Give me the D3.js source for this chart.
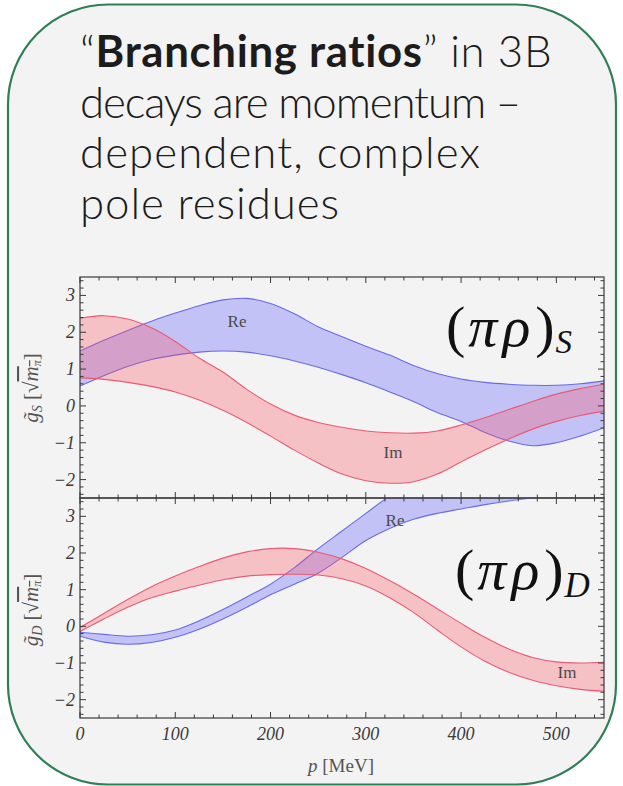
<!DOCTYPE html>
<html>
<head>
<meta charset="utf-8">
<script src="https://cdn.jsdelivr.net/npm/d3@7"></script>
<style>
  html, body { margin: 0; padding: 0; background: #ffffff; }
  svg { display: block; }
</style>
</head>
<body>
<svg id="chart" width="623" height="786"></svg>
<script>
// Momentum grid (MeV) shared by every band
const momentum = [0, 25, 50, 75, 100, 125, 150, 175, 200, 225, 250, 275, 300, 325, 350, 375, 400, 425, 450, 475, 500, 525, 550];

// (pi rho) S-wave residue, real part: upper / lower edge of the band
const reS_hi = [1.49, 1.78, 2.05, 2.30, 2.52, 2.72, 2.88, 2.92, 2.78, 2.50, 2.15, 1.88, 1.62, 1.38, 1.10, 0.88, 0.73, 0.64, 0.59, 0.56, 0.56, 0.60, 0.68];
const reS_lo = [0.54, 0.82, 1.07, 1.26, 1.38, 1.46, 1.49, 1.46, 1.36, 1.22, 1.05, 0.85, 0.63, 0.38, 0.12, -0.18, -0.42, -0.72, -0.95, -1.08, -1.00, -0.82, -0.59];
// (pi rho) S-wave residue, imaginary part
const imS_hi = [2.38, 2.45, 2.36, 2.12, 1.75, 1.30, 0.92, 0.45, 0.05, -0.25, -0.45, -0.58, -0.68, -0.73, -0.74, -0.68, -0.52, -0.32, -0.10, 0.12, 0.32, 0.47, 0.59];
const imS_lo = [0.76, 0.72, 0.64, 0.53, 0.38, 0.16, -0.12, -0.45, -0.82, -1.20, -1.55, -1.85, -2.03, -2.10, -2.06, -1.85, -1.52, -1.20, -0.90, -0.63, -0.42, -0.26, -0.14];

// (pi rho) D-wave residue, real part
const reD_hi = [-0.16, -0.22, -0.27, -0.23, -0.10, 0.15, 0.46, 0.80, 1.15, 1.60, 2.12, 2.60, 3.08, 3.55, 3.90, 4.20, 4.40, 4.60, 4.75, 4.85, 4.90, 4.95, 5.00];
const reD_lo = [-0.27, -0.43, -0.49, -0.44, -0.30, -0.08, 0.20, 0.52, 0.86, 1.15, 1.45, 1.88, 2.34, 2.67, 2.92, 3.08, 3.20, 3.32, 3.42, 3.50, 3.56, 3.62, 3.66];
// (pi rho) D-wave residue, imaginary part
const imD_hi = [-0.03, 0.35, 0.73, 1.08, 1.37, 1.63, 1.86, 2.03, 2.12, 2.12, 2.02, 1.84, 1.58, 1.25, 0.88, 0.48, 0.08, -0.30, -0.62, -0.85, -0.97, -1.00, -0.98];
const imD_lo = [-0.14, 0.20, 0.52, 0.78, 0.96, 1.12, 1.27, 1.37, 1.41, 1.42, 1.40, 1.30, 1.10, 0.78, 0.38, -0.10, -0.56, -0.95, -1.25, -1.47, -1.62, -1.72, -1.77];

// Axis ticks
const xTickValues = [0, 100, 200, 300, 400, 500];
const yTickValues = [-2, -1, 0, 1, 2, 3];
const xDomain = [0, 550];
const yDomain = [-2.5, 3.5];

const titleLines = [
  [{t: "\u201C", b: false}, {t: "Branching ratios", b: true}, {t: "\u201D in 3B", b: false}],
  [{t: "decays are momentum \u2013", b: false}],
  [{t: "dependent, complex", b: false}],
  [{t: "pole residues", b: false}]
];
// right end of each title line
const titleLineEnds = [553, 520, 481, 340];

const svg = d3.select("#chart");

// Rounded slide card
svg.append("rect")
  .attr("x", 8).attr("y", 4.5).attr("width", 608).attr("height", 780)
  .attr("rx", 100).attr("ry", 100)
  .attr("fill", "#f3f3f3")
  .attr("stroke", "#2f7f56").attr("stroke-width", 2.2);

// Title block
const title = svg.append("g")
  .attr("font-family", "Lato, 'Open Sans', sans-serif")
  .attr("fill", "#1c1c1c");
const titleTexts = titleLines.map((line, i) => {
  const t = title.append("text").attr("x", 80).attr("y", 67 + i * 50.5).attr("font-size", 40);
  line.forEach(seg => {
    t.append("tspan").attr("font-weight", seg.b ? 700 : 300).text(seg.t);
  });
  return t;
});
// Common size from the mean width ratio, then per-line tracking to reach each line's end
const ratios = titleTexts.map((t, i) => (titleLineEnds[i] - 80) / t.node().getComputedTextLength());
const titleSize = 40 * d3.mean(ratios) * 0.98;
titleTexts.forEach((t, i) => {
  t.attr("font-size", titleSize);
  const w = t.node().getComputedTextLength();
  const n = titleLines[i].reduce((s, seg) => s + seg.t.length, 0);
  t.attr("letter-spacing", ((titleLineEnds[i] - 80) - w) / n);
});

const x = d3.scaleLinear().domain(xDomain).range([80, 604]);

const RED = "rgb(255,80,92)";
const BLUE = "rgb(84,84,255)";
const RED_LINE = "#ea5a74";
const BLUE_LINE = "#6a6ae8";

const panels = [
  { top: 277, bottom: 498, re: [reS_hi, reS_lo], im: [imS_hi, imS_lo], id: "S",
    reLabel: [237, 327], imLabel: [393, 458], sym: { x: 446, y: 346, sub: "S", subSize: 33, subDy: 7 },
    yLabelY: 388 },
  { top: 498, bottom: 718, re: [reD_hi, reD_lo], im: [imD_hi, imD_lo], id: "D",
    reLabel: [395, 526], imLabel: [567, 678], sym: { x: 455, y: 589, sub: "D", subSize: 35, subDy: 8 },
    yLabelY: 610 }
];

const serif = "'Liberation Serif', 'DejaVu Serif', serif";

panels.forEach((pn, k) => {
  const y = d3.scaleLinear().domain(yDomain).range([pn.bottom, pn.top]);
  const g = svg.append("g");

  const clipId = "clip" + pn.id;
  svg.append("clipPath").attr("id", clipId)
    .append("rect").attr("x", 80).attr("y", pn.top).attr("width", 524).attr("height", pn.bottom - pn.top);

  const plot = g.append("g").attr("clip-path", `url(#${clipId})`);

  const drawBand = (hi, lo, fill, line) => {
    const rows = momentum.map((p, i) => ({ p, hi: hi[i], lo: lo[i] }));
    const area = d3.area().curve(d3.curveCatmullRom)
      .x(d => x(d.p)).y0(d => y(d.lo)).y1(d => y(d.hi));
    plot.append("path").datum(rows).attr("d", area)
      .attr("fill", fill).attr("fill-opacity", 0.3).attr("stroke", "none");
    ["hi", "lo"].forEach(key => {
      const ln = d3.line().curve(d3.curveCatmullRom).x(d => x(d.p)).y(d => y(d[key]));
      plot.append("path").datum(rows).attr("d", ln)
        .attr("fill", "none").attr("stroke", line).attr("stroke-width", 1.1);
    });
  };
  drawBand(pn.re[0], pn.re[1], BLUE, BLUE_LINE);
  drawBand(pn.im[0], pn.im[1], RED, RED_LINE);

  // Frame with inward ticks on all four sides
  const frame = g.append("g").attr("stroke", "#3a3a3a").attr("stroke-width", 1);
  frame.append("rect").attr("x", 80).attr("y", pn.top).attr("width", 524).attr("height", pn.bottom - pn.top)
    .attr("fill", "none").attr("stroke-width", 1.2);

  d3.range(0, 551, 20).forEach(v => {
    const len = v % 100 === 0 ? 6 : 3.5;
    const xx = x(v);
    frame.append("line").attr("x1", xx).attr("x2", xx).attr("y1", pn.bottom).attr("y2", pn.bottom - len);
    frame.append("line").attr("x1", xx).attr("x2", xx).attr("y1", pn.top).attr("y2", pn.top + len);
  });
  d3.range(-12, 18).forEach(i => {
    const v = i / 5;
    const len = i % 5 === 0 ? 6 : 3.5;
    const yy = y(v);
    frame.append("line").attr("x1", 80).attr("x2", 80 + len).attr("y1", yy).attr("y2", yy);
    frame.append("line").attr("x1", 604).attr("x2", 604 - len).attr("y1", yy).attr("y2", yy);
  });

  // y tick labels
  g.append("g").selectAll("text").data(yTickValues).join("text")
    .attr("x", 75).attr("y", d => y(d) + 6)
    .attr("text-anchor", "end")
    .attr("font-family", serif).attr("font-style", "italic").attr("font-size", 18)
    .attr("fill", "#3a3a3a")
    .text(d => d < 0 ? "\u2212" + Math.abs(d) : d);

  // y axis title
  const yl = g.append("text")
    .attr("transform", `translate(38,${pn.yLabelY}) rotate(-90)`)
    .attr("text-anchor", "middle")
    .attr("font-family", serif).attr("font-size", 21).attr("fill", "#555");
  yl.append("tspan").attr("font-style", "italic").text("g\u0303");
  yl.append("tspan").attr("font-style", "italic").attr("font-size", 14).attr("dy", 4).text(pn.id);
  yl.append("tspan").attr("dy", -4).text(" [\u221A");
  yl.append("tspan").attr("font-style", "italic").attr("text-decoration", "overline").text("m");
  yl.append("tspan").attr("font-style", "italic").attr("font-size", 12).attr("dy", 3).attr("text-decoration", "overline").text("\u03C0");
  yl.append("tspan").attr("dy", -3).text("]");

  // Re / Im tags
  [["Re", pn.reLabel], ["Im", pn.imLabel]].forEach(([txt, pos]) => {
    g.append("text").attr("x", pos[0]).attr("y", pos[1]).attr("text-anchor", "middle")
      .attr("font-family", serif).attr("font-size", 17).attr("fill", "#4a4a4a").text(txt);
  });

  // Channel symbol (pi rho)_L
  const s = g.append("text").attr("x", pn.sym.x).attr("y", pn.sym.y)
    .attr("font-family", serif).attr("font-size", 58).attr("fill", "#111");
  s.append("tspan").attr("letter-spacing", 3).text("(");
  s.append("tspan").attr("font-style", "italic").attr("letter-spacing", 5).text("\u03C0\u03C1");
  s.append("tspan").attr("letter-spacing", 1).text(")");
  s.append("tspan").attr("font-style", "italic").attr("font-size", pn.sym.subSize).attr("dy", pn.sym.subDy).text(pn.sym.sub);
});

// x tick labels and title under the lower panel
svg.append("g").selectAll("text").data(xTickValues).join("text")
  .attr("x", d => x(d)).attr("y", 740)
  .attr("text-anchor", "middle")
  .attr("font-family", serif).attr("font-style", "italic").attr("font-size", 18)
  .attr("fill", "#3a3a3a")
  .text(d => d);

const xl = svg.append("text").attr("x", 341).attr("y", 772).attr("text-anchor", "middle")
  .attr("font-family", serif).attr("font-size", 19).attr("fill", "#555");
xl.append("tspan").attr("font-style", "italic").text("p");
xl.append("tspan").text(" [MeV]");
</script>
</body>
</html>
